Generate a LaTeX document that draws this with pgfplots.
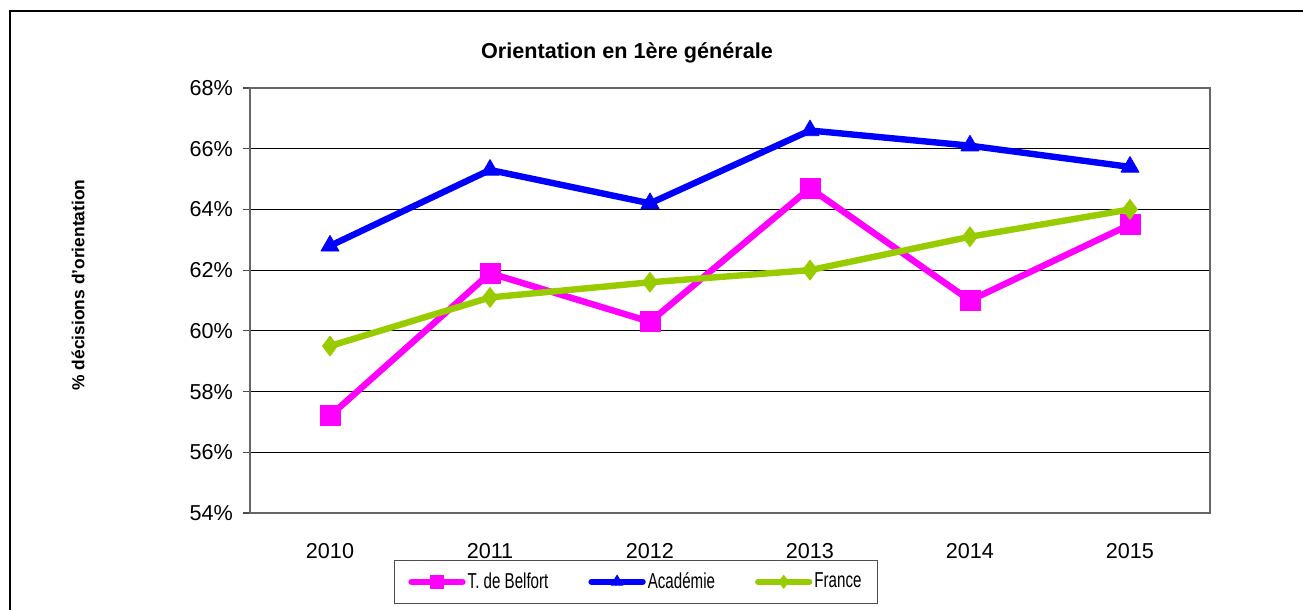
\documentclass[border=0pt]{standalone}
\usepackage{fontspec}
\setmainfont{Liberation Sans}
\newfontfamily\legendfont[FakeStretch=0.7]{Liberation Sans}
\usepackage{pgfplots}
\pgfplotsset{compat=1.18}
\definecolor{belfort}{RGB}{255,0,255}
\definecolor{acad}{RGB}{0,0,255}
\definecolor{france}{RGB}{153,204,0}
\begin{document}
\begin{tikzpicture}
\path[use as bounding box] (0,0) rectangle (651.5pt,305pt);
\draw[line width=1.3pt] (5pt,0) -- (5pt,299.5pt) -- (651.5pt,299.5pt);
\node[font=\fontsize{10.8}{13}\selectfont\bfseries] at (313.5pt,278.5pt) {Orientation en 1ère générale};
\node[rotate=90,font=\fontsize{8.7}{10}\selectfont\bfseries] at (39pt,162.5pt) {\% décisions d'orientation};
\begin{axis}[
  at={(125pt,48.5pt)}, anchor=south west,
  scale only axis, width=480pt, height=212.5pt,
  xmin=-0.5, xmax=5.5, ymin=54, ymax=68,
  xtick={0,...,5}, xticklabels={2010,2011,2012,2013,2014,2015},
  xtick style={draw=none},
  xticklabel style={yshift=-8.3pt},
  ytick={54,56,...,68},
  yticklabels={54\%,56\%,58\%,60\%,62\%,64\%,66\%,68\%},
  yticklabel style={xshift=-1.5pt},
  ytick pos=left, xtick pos=bottom,
  tick align=outside, major tick length=3.5pt,
  ytick style={black!70, line width=0.6pt},
  extra x ticks={-0.5,0.5,...,5.5}, extra x tick labels={},
  extra x tick style={grid=none, major tick length=3.5pt, tick style={draw=black!70, line width=0.6pt}},
  ymajorgrids, major grid style={black, line width=0.5pt},
  axis line style={black!60, line width=0.9pt},
  ticklabel style={font=\fontsize{10.8}{12}\selectfont},
  clip=false,
  legend columns=3,
  legend style={at={(0.402,-0.162)}, anchor=center, draw=black!70, line width=0.6pt,
    font=\legendfont\fontsize{10.8}{12}\selectfont,
    /tikz/every even column/.append style={column sep=19pt},
    nodes={inner sep=1pt}, inner xsep=7pt, inner ysep=5pt},
  legend image code/.code={\draw[mark repeat=2,mark phase=2,#1,every mark/.append style={scale=0.65}] plot coordinates {(0pt,0pt) (12.75pt,0pt) (25.5pt,0pt)};},
]
\addplot[belfort, line width=3.2pt, line join=round, line cap=round, mark=square*, mark size=5pt, mark options={line width=0.4pt, fill=belfort}]
  coordinates {(0,57.2) (1,61.9) (2,60.3) (3,64.7) (4,61.0) (5,63.5)};
\addlegendentry{T. de Belfort}
\addplot[acad, line width=3.2pt, line join=round, line cap=round, mark=triangle*, mark size=5.2pt, mark options={line width=0.4pt, fill=acad}]
  coordinates {(0,62.8) (1,65.3) (2,64.2) (3,66.6) (4,66.1) (5,65.4)};
\addlegendentry{Académie}
\addplot[france, line width=3.2pt, line join=round, line cap=round, mark=diamond*, mark size=5pt, mark options={line width=0.4pt, fill=france}]
  coordinates {(0,59.5) (1,61.1) (2,61.6) (3,62.0) (4,63.1) (5,64.0)};
\addlegendentry{France}
\end{axis}
\end{tikzpicture}
\end{document}
